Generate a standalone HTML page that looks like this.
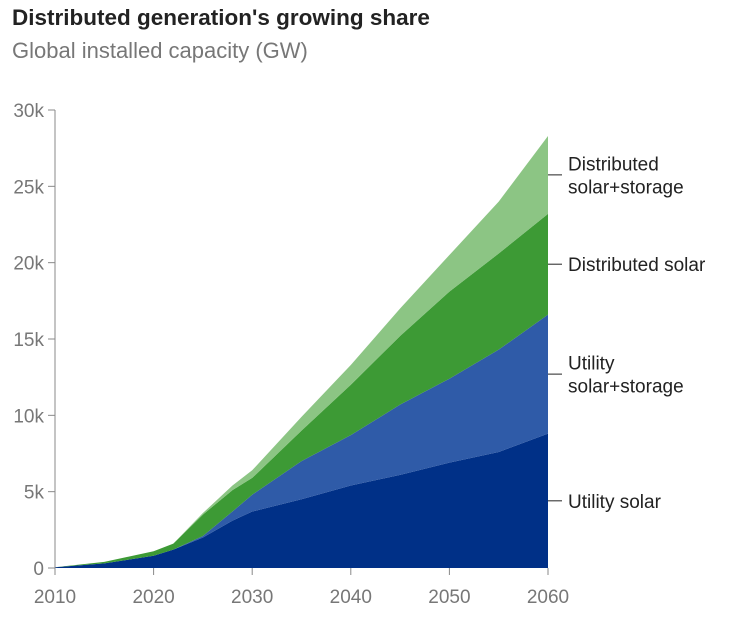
<!DOCTYPE html>
<html><head><meta charset="utf-8"><style>
body{margin:0;background:#fff;font-family:"Liberation Sans",sans-serif}
#t{position:absolute;left:12px;top:5px;font-size:22.5px;font-weight:bold;color:#222}
#s{position:absolute;left:12px;top:38px;font-size:22px;color:#777}
</style></head><body>
<div id="t">Distributed generation's growing share</div>
<div id="s">Global installed capacity (GW)</div>
<svg id="c" width="731" height="621" style="position:absolute;left:0;top:0"></svg>
<script>
const years=[2010,2015,2020,2022,2025,2028,2030,2035,2040,2045,2050,2055,2060];
const utilitySolar=[0.05,0.3,0.8,1.2,2.0,3.1,3.7,4.5,5.4,6.1,6.9,7.6,8.8];
const utilityStorage=[0,0,0,0,0.1,0.6,1.1,2.5,3.3,4.6,5.5,6.7,7.8];
const distSolar=[0,0.1,0.3,0.4,1.4,1.4,1.1,2.0,3.3,4.5,5.7,6.3,6.6];
const distStorage=[0,0,0,0,0.1,0.3,0.5,0.9,1.3,1.8,2.4,3.4,5.1];
const yTicks=[0,5,10,15,20,25,30];
const xTicks=[2010,2020,2030,2040,2050,2060];
const series=[["utility-solar",utilitySolar,"#003087","Utility solar"],["utility-solar-storage",utilityStorage,"#2f5ba8","Utility|solar+storage"],["distributed-solar",distSolar,"#3d9a35","Distributed solar"],["distributed-solar-storage",distStorage,"#8cc584","Distributed|solar+storage"]];
const X=y=>55+(y-2010)*(548-55)/50, Y=v=>568-v*(458/30);
const svg=document.getElementById('c'),NS="http://www.w3.org/2000/svg";
function mk(t,a,p){const e=document.createElementNS(NS,t);for(const k in a)e.setAttribute(k,a[k]);(p||svg).appendChild(e);return e;}
let base=years.map(()=>0);
series.forEach(s=>{
  const top=base.map((b,i)=>b+s[1][i]);
  let d="M"+years.map((y,i)=>X(y)+","+Y(top[i])).join("L");
  for(let i=years.length-1;i>=0;i--)d+="L"+X(years[i])+","+Y(base[i]);
  const p=mk("path",{d:d+"Z",fill:s[2]});
  
  
  const n=years.length-1,mid=(base[n]+top[n])/2,ly=Y(mid);
  const l=mk("line",{x1:548,x2:562,y1:ly,y2:ly,stroke:"#222"});
  
  
  const parts=s[3].split("|");
  parts.forEach((tx,j)=>{
    const t=mk("text",{x:568,y:ly+7+(j-(parts.length-1)/2)*23,"font-size":19,fill:"#222"});
    t.textContent=tx;
    
    
  });
  base=top;
});
const ax=mk("line",{x1:55,x2:55,y1:110,y2:568,stroke:"#888"});


yTicks.forEach(v=>{
  const l=mk("line",{x1:48,x2:55,y1:Y(v),y2:Y(v),stroke:"#888"});
  
  
  const t=mk("text",{x:44,y:Y(v)+7,"text-anchor":"end","font-size":19,fill:"#777"});
  t.textContent=v?v+"k":"0";
  
  
});
xTicks.forEach(v=>{
  const l=mk("line",{x1:X(v),x2:X(v),y1:568,y2:575,stroke:"#888"});
  
  
  const t=mk("text",{x:X(v),y:603,"text-anchor":"middle","font-size":19,fill:"#777"});
  t.textContent=v;
  
  
});
</script>
</body></html>
